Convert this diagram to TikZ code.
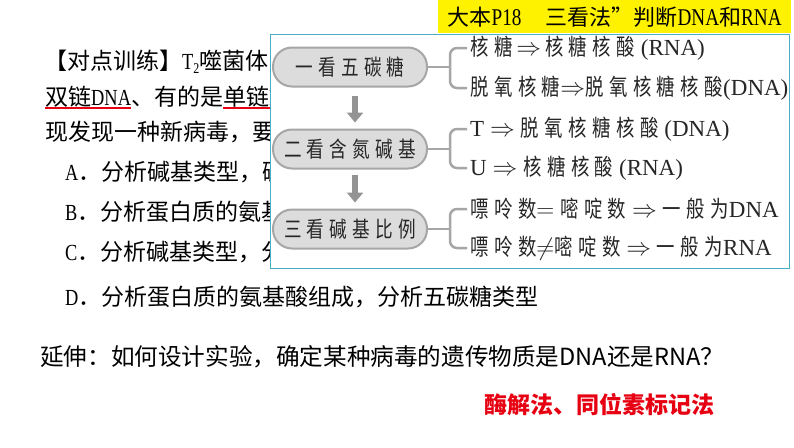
\documentclass[tikz,border=0pt]{standalone}
\usepackage{fontspec}
\setmainfont{Liberation Serif}
\newfontfamily\cjk{Noto Sans CJK SC}
\newfontfamily\cjkp{Noto Sans CJK SC}[FakeStretch=0.8,LetterSpace=24]
\newfontfamily\latc{Liberation Serif}[FakeStretch=0.8]
\usetikzlibrary{arrows.meta}
\definecolor{pillfill}{HTML}{DCDCDC}
\definecolor{pillline}{HTML}{A6A6A6}
\definecolor{panelline}{HTML}{4BACC6}
\definecolor{arrowgray}{HTML}{939393}
\definecolor{ansred}{HTML}{E60012}
\definecolor{paneltext}{HTML}{262626}
\begin{document}
\begin{tikzpicture}[x=1pt,y=-1pt,
  lefttext/.style={anchor=west,inner sep=0pt,font=\fontsize{23}{23}\selectfont\cjk},
  pill/.style={draw=pillline,line width=2pt,fill=pillfill,rounded corners=19pt,
    minimum width=154pt,minimum height=39pt,inner sep=0pt,
    font=\fontsize{22}{22}\selectfont\cjkp,text=paneltext},
  rowtext/.style={anchor=west,inner sep=0pt,font=\fontsize{23}{23}\selectfont\cjkp,text=paneltext},
  downarrow/.style={draw=arrowgray,line width=6pt,-{Triangle[length=10pt,width=16pt]}},
  bracket/.style={draw=pillline,line width=2.5pt,rounded corners=7pt},
  uline/.style={draw=ansred,line width=1.5pt}]
\useasboundingbox (0,0) rectangle (794,447);
\fill[white] (0,0) rectangle (794,447);

% left question text
\node[lefttext] (q1) at (44,62) {【对点训练】{\latc T}\raisebox{-4pt}{\fontsize{15}{15}\selectfont\latc 2}噬菌体};
\node[lefttext] (q2) at (45,97) {双链{\latc DNA}、有的是单链{\latc R}};
\node[lefttext] (q3) at (45,132) {现发现一种新病毒，要};
\node[lefttext] (qa) at (65,172) {{\latc A}．分析碱基类型，碱};
\node[lefttext] (qb) at (65,212) {{\latc B}．分析蛋白质的氨基};
\node[lefttext] (qc) at (65,252) {{\latc C}．分析碱基类型，分};
\node[lefttext] (qd) at (65,297) {{\latc D}．分析蛋白质的氨基酸组成，分析五碳糖类型};
\draw[uline] (45,108) -- (131,108);
\draw[uline] (223,108) -- (270,108);

% panel
\node[draw=panelline,line width=1.2pt,fill=white,anchor=north west,inner sep=0pt,
  minimum width=519pt,minimum height=234pt] (panel) at (270,34) {};

% title
\node[fill=yellow,anchor=north west,inner sep=0pt,minimum width=353pt,minimum height=33pt,
  font=\fontsize{22}{22}\selectfont\cjk] (title) at (438,0)
  {大本{\latc\fontsize{24}{24}\selectfont P18}\hspace{24pt}三看法”判断{\latc\fontsize{24}{24}\selectfont DNA}和{\latc\fontsize{24}{24}\selectfont RNA}};

% pills
\node[pill] (p1) at (350,67) {一看五碳糖};
\node[pill] (p2) at (350,149) {二看含氮碱基};
\node[pill] (p3) at (350,229) {三看碱基比例};
\draw[downarrow] ([xshift=5pt,yshift=-8pt]p1.south) -- ([xshift=5pt,yshift=6pt]p2.north);
\draw[downarrow] ([xshift=5pt,yshift=-5pt]p2.south) -- ([xshift=5pt,yshift=6pt]p3.north);

% rows
\node[rowtext] (r1) at (470,48) {核糖{\rmfamily\,$\Rightarrow$\,}核糖核酸{\rmfamily\ (RNA)}};
\node[rowtext] (r2) at (470,88) {脱氧核糖{\rmfamily$\Rightarrow$}脱氧核糖核酸{\rmfamily(DNA)}};
\node[rowtext] (r3) at (470,129) {{\rmfamily T $\Rightarrow$ }脱氧核糖核酸{\rmfamily\ (DNA)}};
\node[rowtext] (r4) at (470,168) {{\rmfamily U $\Rightarrow$ }核糖核酸{\rmfamily\ (RNA)}};
\node[rowtext] (r5) at (470,209) {嘌呤数{\rmfamily$=$ }嘧啶数{\rmfamily\ $\Rightarrow$ }一般为{\rmfamily DNA}};
\node[rowtext] (r6) at (470,248) {嘌呤数{\rmfamily$\neq$}嘧啶数{\rmfamily\ $\Rightarrow$ }一般为{\rmfamily RNA}};

% brackets
\coordinate (v1a) at ([xshift=-20pt]r1.west);
\coordinate (v1b) at ([xshift=-20pt]r2.west);
\coordinate (v2a) at ([xshift=-20pt]r3.west);
\coordinate (v2b) at ([xshift=-20pt]r4.west);
\coordinate (v3a) at ([xshift=-20pt]r5.west);
\coordinate (v3b) at ([xshift=-20pt]r6.west);
\draw[bracket] ([xshift=-3pt]r1.west) -- (v1a) -- (v1b) -- ([xshift=-3pt]r2.west);
\draw[bracket] ([xshift=-3pt]r3.west) -- (v2a) -- (v2b) -- ([xshift=-3pt]r4.west);
\draw[bracket] ([xshift=-3pt]r5.west) -- (v3a) -- (v3b) -- ([xshift=-3pt]r6.west);
\draw[bracket] (p1.east) -- (p1.east -| v1a);
\draw[bracket] (p2.east) -- (p2.east -| v2a);
\draw[bracket] (p3.east) -- (p3.east -| v3a);

% bottom
\node[lefttext,font=\fontsize{23.6}{24}\selectfont\cjk] (ext) at (40,357) {延伸：如何设计实验，确定某种病毒的遗传物质是DNA还是RNA？};
\node[lefttext,font=\fontsize{23}{23}\selectfont\cjk\bfseries,text=ansred] (ans) at (484,405) {酶解法、同位素标记法};
\end{tikzpicture}
\end{document}
